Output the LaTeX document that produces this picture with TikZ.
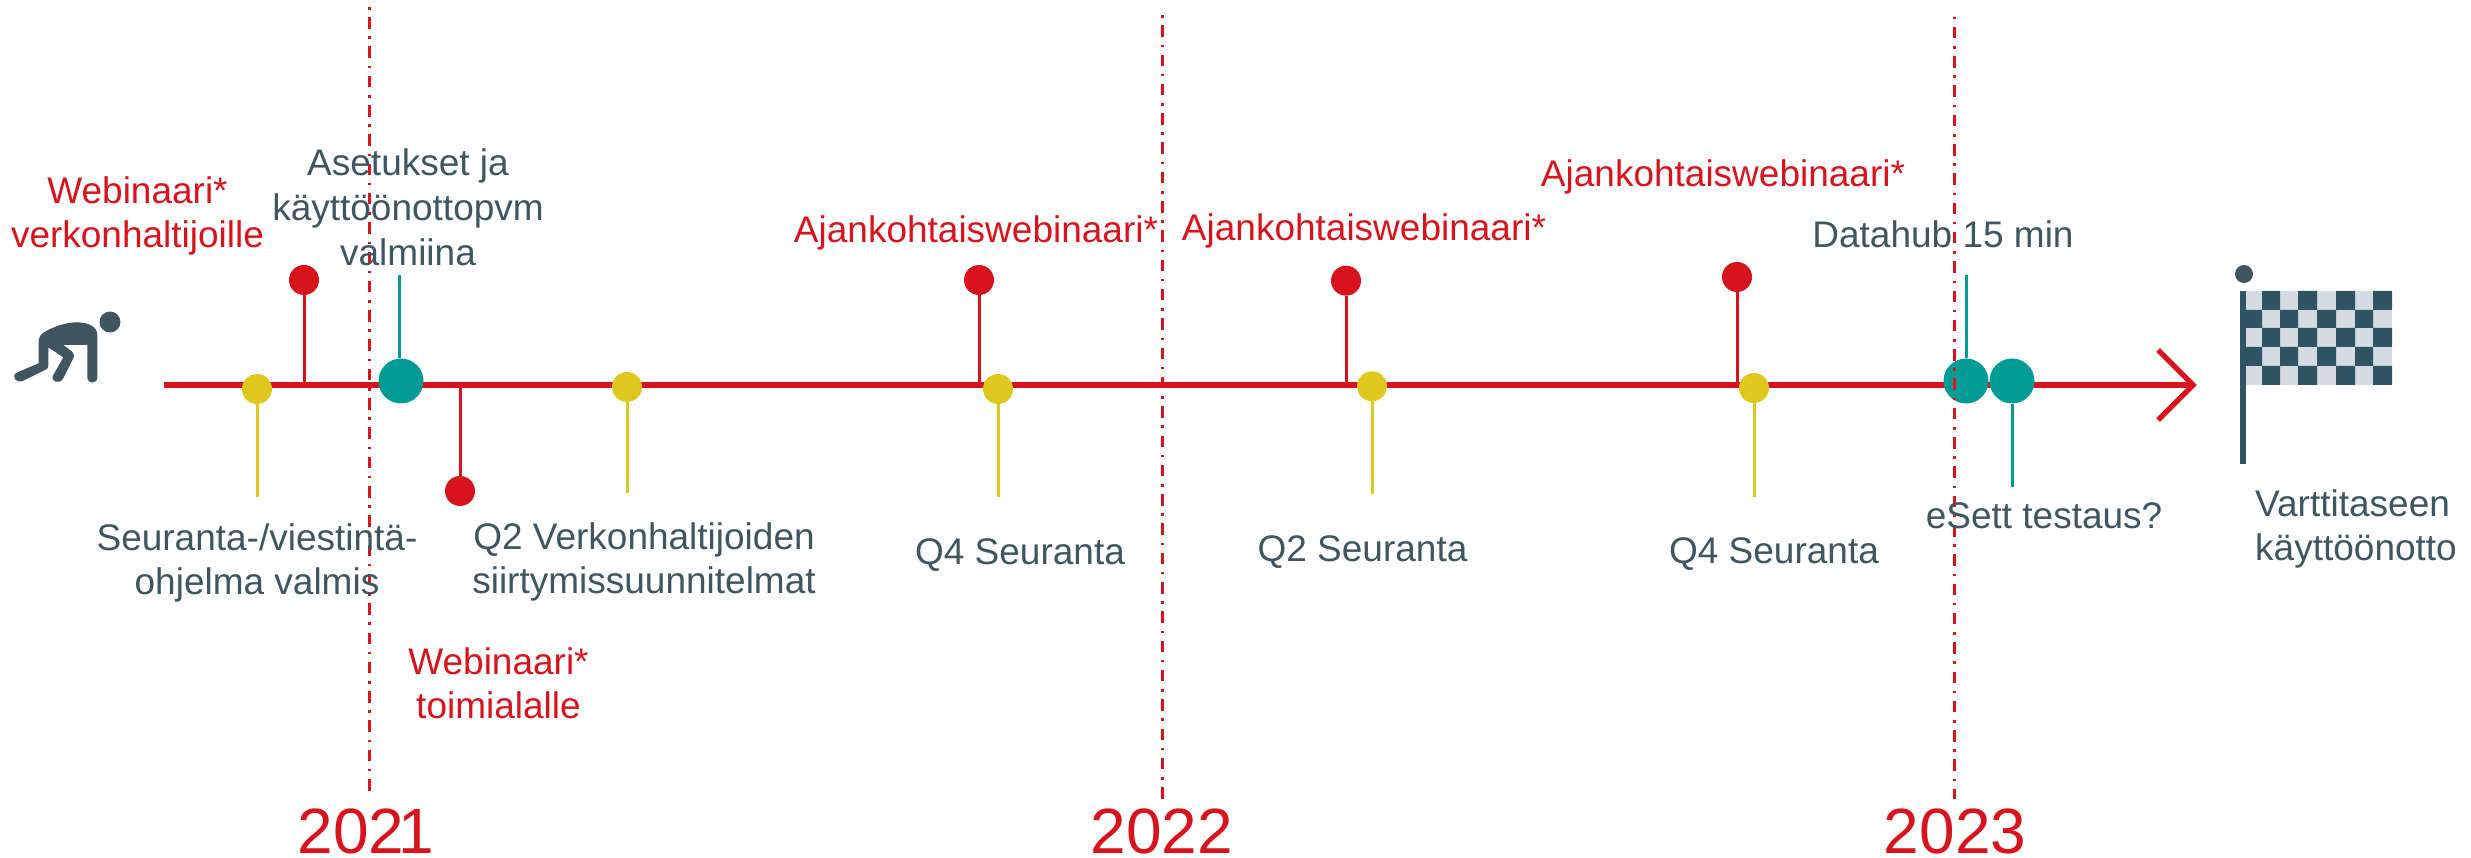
\documentclass[tikz,border=0pt]{standalone}
\usepackage{fontspec}
\setmainfont{Liberation Sans}
\definecolor{cred}{HTML}{D7141E}
\definecolor{cslate}{HTML}{3F5661}
\definecolor{cteal}{HTML}{009B94}
\definecolor{cyel}{HTML}{DFC81E}
\definecolor{cfd}{HTML}{2F5464}
\definecolor{cfl}{HTML}{D5DBE2}
\tikzset{
  redtxt/.style={text=cred,font=\fontsize{37}{44}\selectfont,align=center,inner sep=0pt,anchor=base},
  slatetxt/.style={text=cslate,font=\fontsize{37}{44}\selectfont,align=center,inner sep=0pt,anchor=base},
  yeartxt/.style={text=cred,font=\fontsize{64}{64}\selectfont,inner sep=0pt,anchor=base},
  reddot/.style={circle,fill=cred,minimum size=30pt,inner sep=0pt},
  yeldot/.style={circle,fill=cyel,minimum size=30pt,inner sep=0pt},
  tealdot/.style={circle,fill=cteal,minimum size=45pt,inner sep=0pt},
  redstem/.style={draw=cred,line width=3pt},
  yelstem/.style={draw=cyel,line width=3pt},
  tealstem/.style={draw=cteal,line width=3pt},
  axisline/.style={draw=cred,line width=5.3pt},
  yearline/.style={draw=cred,line width=3pt},
}
\begin{document}
\begin{tikzpicture}[x=1pt,y=-1pt]
\useasboundingbox (0,0) rectangle (2471,858);
% axis
\coordinate (axS) at (164,385);
\coordinate (axB) at (164,388);
\coordinate (axE) at (2193,385);
\coordinate (chA) at (2158,350);
\coordinate (chB) at (2158,420);
\draw[axisline] (axS) -- (axE);
\draw[axisline,miter limit=10] (chA) -- (axE) -- (chB);
% stems' free ends
\coordinate (t1) at (399,275);
\coordinate (t2) at (1966,275);
\coordinate (t3) at (2012,487);
\coordinate (y1e) at (257,497);
\coordinate (y2e) at (627,493);
\coordinate (y3e) at (998,497);
\coordinate (y4e) at (1372,494);
\coordinate (y5e) at (1754,497);
% dots
\node[reddot] (r1) at (304,280) {};
\node[reddot] (r2) at (460,491) {};
\node[reddot] (r3) at (979,280) {};
\node[reddot] (r4) at (1346,280.7) {};
\node[reddot] (r5) at (1737,277) {};
\draw[redstem] (r1) -- (r1 |- axB);
\draw[redstem] (r2) -- (r2 |- axS);
\draw[redstem] (r3) -- (r3 |- axB);
\draw[redstem] (r4) -- (r4 |- axB);
\draw[redstem] (r5) -- (r5 |- axB);
\node[yeldot] (y1) at (257,389) {};
\node[yeldot] (y2) at (627,387) {};
\node[yeldot] (y3) at (998,389) {};
\node[yeldot] (y4) at (1372,386.3) {};
\node[yeldot] (y5) at (1754,388) {};
\draw[yelstem] (y1) -- (y1e);
\draw[yelstem] (y2) -- (y2e);
\draw[yelstem] (y3) -- (y3e);
\draw[yelstem] (y4) -- (y4e);
\draw[yelstem] (y5) -- (y5e);
\node[tealdot] (g1) at (401,381) {};
\node[tealdot] (g2) at (1966,381) {};
\node[tealdot] (g3) at (2012,381) {};
\draw[tealstem] (g1.north -| t1) -- (t1);
\draw[tealstem] (g2) -- (t2);
\draw[tealstem] (g3) -- (t3);
% year lines
\coordinate (v1a) at (369,5);   \coordinate (v1b) at (369,791);
\coordinate (v2a) at (1162,13); \coordinate (v2b) at (1162,799);
\coordinate (v3a) at (1954,13); \coordinate (v3b) at (1954,799);
\draw[yearline,dash pattern=on 11.5pt off 7.75pt on 2.5pt off 7.55pt,dash phase=17.1pt] (v1a) -- (v1b);
\draw[yearline,dash pattern=on 11.5pt off 7.75pt on 2.5pt off 7.55pt,dash phase=17pt] (v2a) -- (v2b);
\draw[yearline,dash pattern=on 11.5pt off 7.75pt on 2.5pt off 7.55pt,dash phase=15.4pt] (v3a) -- (v3b);
% runner icon
\node[circle,fill=cslate,minimum size=21pt,inner sep=0pt] (head) at (110,322) {};
\begin{scope}[shift={(0,290)},x=0.3333pt,y=-0.3333pt]
\fill[cslate] (116,155) .. controls (116,140) and (125,130) .. (135,125)
  .. controls (165,108) and (200,97) .. (230,97)
  .. controls (265,97) and (292,110) .. (292,135)
  -- (292,262) .. controls (292,283) and (262,283) .. (262,262)
  -- (262,165) -- (190,165) -- (214,183)
  .. controls (222,190) and (224,198) .. (219,207)
  -- (190,265) .. controls (180,285) and (148,275) .. (160,255)
  -- (190,202) -- (145,172) -- (145,225)
  .. controls (145,235) and (140,238) .. (135,240)
  -- (70,272) .. controls (50,283) and (30,258) .. (52,247)
  -- (116,220) -- cycle;
\end{scope}
% flag
\node[circle,fill=cslate,minimum size=18pt,inner sep=0pt] (fhead) at (2244,274) {};
\fill[cfl] (2246,291) rectangle (2392,385);
\fill[cfd] (2262,291) rectangle (2280,310) (2298,291) rectangle (2317,310) (2336,291) rectangle (2355,310) (2373,291) rectangle (2392,310);
\fill[cfd] (2246,310) rectangle (2262,328) (2280,310) rectangle (2298,328) (2317,310) rectangle (2336,328) (2355,310) rectangle (2373,328);
\fill[cfd] (2262,328) rectangle (2280,347) (2298,328) rectangle (2317,347) (2336,328) rectangle (2355,347) (2373,328) rectangle (2392,347);
\fill[cfd] (2246,347) rectangle (2262,366) (2280,347) rectangle (2298,366) (2317,347) rectangle (2336,366) (2355,347) rectangle (2373,366);
\fill[cfd] (2262,366) rectangle (2280,385) (2298,366) rectangle (2317,385) (2336,366) rectangle (2355,385) (2373,366) rectangle (2392,385);
\fill[cfd] (2240,291) rectangle (2246,464);
% texts
\node[redtxt] (a) at (137.5,248) {Webinaari*\\verkonhaltijoille};
\node[slatetxt,font=\fontsize{37}{45}\selectfont] (b) at (408,266) {Asetukset ja\\käyttöönottopvm\\valmiina};
\node[redtxt] (c) at (976,242.5) {Ajankohtaiswebinaari*};
\node[redtxt] (d) at (1364,241) {Ajankohtaiswebinaari*};
\node[redtxt] (e) at (1723,186.5) {Ajankohtaiswebinaari*};
\node[slatetxt] (f) at (1943,247.5) {Datahub 15 min};
\node[slatetxt] (g) at (257,594) {Seuranta-/viestintä-\\ohjelma valmis};
\node[slatetxt] (h) at (644,593) {Q2 Verkonhaltijoiden\\siirtymissuunnitelmat};
\node[redtxt] (i) at (498.5,718) {Webinaari*\\toimialalle};
\node[slatetxt] (j) at (1020,564) {Q4 Seuranta};
\node[slatetxt] (k) at (1362.5,561) {Q2 Seuranta};
\node[slatetxt] (l) at (1774,563) {Q4 Seuranta};
\node[slatetxt] (m) at (2044,528) {eSett testaus?};
\node[slatetxt,anchor=base west,align=left] (n) at (2255,560) {Varttitaseen\\käyttöönotto};
\node[yeartxt] (o) at (366,853) {202\kern-6pt 1};
\node[yeartxt] (p) at (1162,853) {2022};
\node[yeartxt] (q) at (1955,853) {2023};
\end{tikzpicture}
\end{document}
